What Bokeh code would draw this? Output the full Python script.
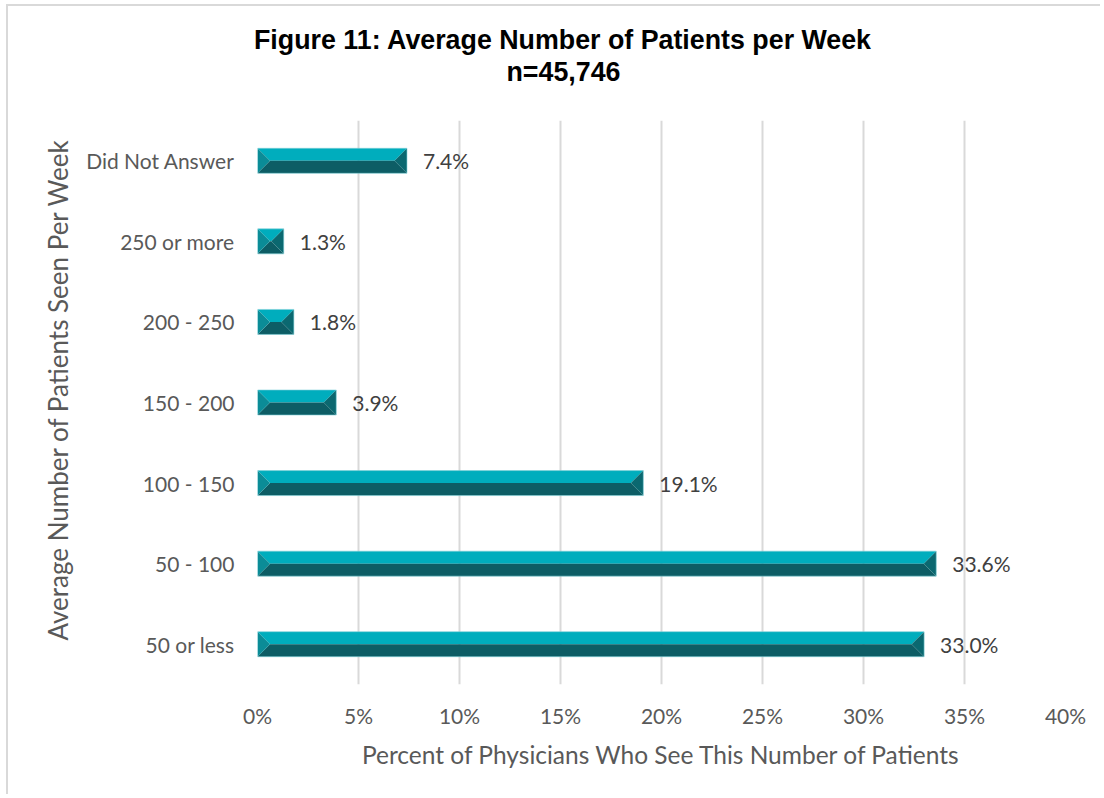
from bokeh.plotting import figure
from bokeh.models import Range1d, FixedTicker, Title
from bokeh.core.properties import value
from bokeh.embed import file_html
from bokeh.resources import INLINE

# ---- data ----
categories = ["50 or less", "50 - 100", "100 - 150", "150 - 200", "200 - 250", "250 or more", "Did Not Answer"]
percents = [33.0, 33.6, 19.1, 3.9, 1.8, 1.3, 7.4]
x_ticks = [0, 5, 10, 15, 20, 25, 30, 35, 40]
title_line1 = "Figure 11: Average Number of Patients per Week"
title_line2 = "n=45,746"
x_title = "Percent of Physicians Who See This Number of Patients"
y_title = "Average Number of Patients Seen Per Week"

FONT = "Lato"
W, H = 1094, 790
p = figure(width=W, height=H, output_backend="svg", toolbar_location=None,
           x_range=Range1d(0, 40), y_range=Range1d(0, len(categories)),
           min_border_left=249, min_border_right=37, min_border_top=114, min_border_bottom=112)
p.styles = {"margin-left": "6px", "margin-top": "4px",
            "border-left": "2px solid #d9d9d9", "border-top": "2px solid #d9d9d9"}
p.outline_line_color = None
p.background_fill_color = "white"
p.border_fill_color = "white"

# grid
p.xgrid.ticker = FixedTicker(ticks=x_ticks)
p.xgrid.grid_line_color = "#d9d9d9"
p.xgrid.grid_line_width = 2
p.ygrid.grid_line_color = None

# axes
centers = [i + 0.5 for i in range(len(categories))]
p.yaxis.ticker = FixedTicker(ticks=centers)
p.yaxis.major_label_overrides = {c: lab for c, lab in zip(centers, categories)}
p.yaxis.axis_line_color = None
p.yaxis.major_tick_line_color = None
p.yaxis.minor_tick_line_color = None
p.yaxis.major_label_standoff = 17
p.yaxis.major_label_text_font = FONT
p.yaxis.major_label_text_font_size = "21px"
p.yaxis.major_label_text_color = "#595959"

p.xaxis.ticker = FixedTicker(ticks=x_ticks)
p.xaxis.major_label_overrides = {t: f"{t}%" for t in x_ticks}
p.xaxis.axis_line_color = None
p.xaxis.major_tick_line_color = None
p.xaxis.minor_tick_line_color = None
p.xaxis.major_label_standoff = 12
p.xaxis.major_label_text_font = FONT
p.xaxis.major_label_text_font_size = "21px"
p.xaxis.major_label_text_color = "#595959"
p.xaxis.axis_label = x_title
p.xaxis.axis_label_text_font = FONT
p.xaxis.axis_label_text_font_size = "24.5px"
p.xaxis.axis_label_text_font_style = "normal"
p.xaxis.axis_label_text_color = "#595959"
p.xaxis.axis_label_standoff = 9

# y-axis title as a left-side title (positioned from the bottom of the frame)
p.add_layout(Title(text=y_title, align="left", offset=44, standoff=17, vertical_align="middle",
                   text_font=FONT, text_font_style="normal", text_font_size="26px",
                   text_color="#595959"), "left")

# bevelled bars
px_per_x = 808 / 40.0
px_per_y = 564 / 7.0
hh = 12.5 / px_per_y
top_xs, top_ys, bot_xs, bot_ys, l_xs, l_ys, r_xs, r_ys = [], [], [], [], [], [], [], []
for yc, v in zip(centers, percents):
    bw = min(12.5 / px_per_x, v / 2)
    t, b = yc + hh, yc - hh
    top_xs.append([0, v, v - bw, bw]); top_ys.append([t, t, yc, yc])
    bot_xs.append([0, v, v - bw, bw]); bot_ys.append([b, b, yc, yc])
    l_xs.append([0, bw, 0]); l_ys.append([t, yc, b])
    r_xs.append([v, v - bw, v]); r_ys.append([t, yc, b])
p.patches(top_xs, top_ys, fill_color="#00adbd", line_color=None)
p.patches(bot_xs, bot_ys, fill_color="#0d5d65", line_color=None)
p.patches(l_xs, l_ys, fill_color="#0b8c97", line_color=None)
p.patches(r_xs, r_ys, fill_color="#0b6870", line_color=None)
p.quad(left=[0] * len(percents), right=percents,
       bottom=[c - hh for c in centers], top=[c + hh for c in centers],
       fill_color=None, line_color="#7fd0d8", line_width=1, line_alpha=0.6)

# data labels
p.text(x=percents, y=centers, text=[f"{v:.1f}%" for v in percents],
       x_offset=16, text_align="left", text_baseline="middle",
       text_font=value(FONT), text_font_size="21px", text_color="#404040")

# titles: spacer nearest the frame, then line 2, then line 1
p.add_layout(Title(text=" ", text_font_size="10px", standoff=21), "above")
p.add_layout(Title(text=title_line2, align="left", offset=249, standoff=0,
                   text_font="Liberation Sans", text_font_style="bold",
                   text_font_size="26.8px", text_color="black"), "above")
p.add_layout(Title(text=title_line1, align="left", offset=-3.5, standoff=0,
                   text_font="Liberation Sans", text_font_style="bold",
                   text_font_size="26.8px", text_color="black"), "above")

open("out.html", "w").write(file_html(p, INLINE))
